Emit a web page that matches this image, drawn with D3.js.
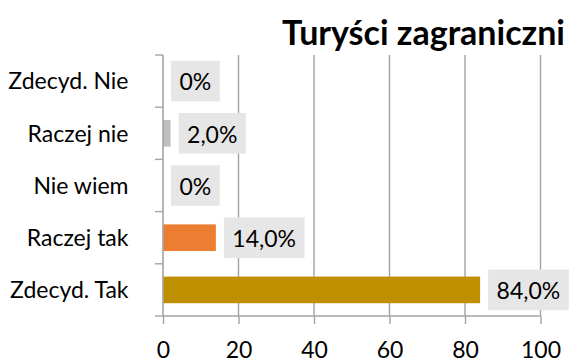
<!DOCTYPE html>
<html>
<head>
<meta charset="utf-8">
<script src="https://cdn.jsdelivr.net/npm/d3@7"></script>
<style>
  html, body { margin: 0; padding: 0; background: #fff; }
  svg { display: block; }
  text { font-family: Lato, "Open Sans", sans-serif; fill: #000; }
</style>
</head>
<body>
<svg id="chart" width="569" height="363"></svg>
<script>
// Survey answers, foreign tourists (percent of respondents)
const title = "Turyści zagraniczni";
const categories = ["Zdecyd. Nie", "Raczej nie", "Nie wiem", "Raczej tak", "Zdecyd. Tak"];
const values = [0, 2, 0, 14, 84];
const barColors = ["#bfbfbf", "#bfbfbf", "#bfbfbf", "#ed7d31", "#bf9000"];
const xTicks = [0, 20, 40, 60, 80, 100];

const W = 569, H = 363;
const plot = { left: 163, right: 540.5, top: 55, bottom: 316 };
const fontSize = 23;

const svg = d3.select("#chart");

const x = d3.scaleLinear().domain([0, 100]).range([plot.left, plot.right]);
const y = d3.scaleBand()
  .domain(categories)
  .range([plot.top, plot.bottom])
  .paddingInner(0.49)
  .paddingOuter(0.245);

const step = y.step();
const gridColor = "#a3a3a3";

// vertical gridlines
svg.append("g")
  .selectAll("line")
  .data(xTicks.filter(d => d > 0))
  .join("line")
  .attr("x1", d => x(d)).attr("x2", d => x(d))
  .attr("y1", plot.top).attr("y2", plot.bottom)
  .attr("stroke", gridColor)
  .attr("stroke-width", 1.4);

// bars
svg.append("g")
  .selectAll("rect")
  .data(categories.map((c, i) => ({ c, v: values[i], color: barColors[i] })))
  .join("rect")
  .attr("x", x(0))
  .attr("y", d => y(d.c))
  .attr("width", d => x(d.v) - x(0))
  .attr("height", y.bandwidth())
  .attr("fill", d => d.color);

// bottom value axis
const xAxis = svg.append("g")
  .attr("transform", `translate(0,${plot.bottom})`)
  .call(d3.axisBottom(x).tickValues(xTicks).tickSize(8).tickPadding(18).tickFormat(d3.format("d")));
xAxis.select(".domain").attr("stroke", gridColor).attr("stroke-width", 1.6)
  .attr("d", `M${plot.left},0H${plot.right}`);
xAxis.selectAll(".tick line").attr("stroke", gridColor).attr("stroke-width", 1.4);
xAxis.selectAll(".tick text")
  .style("font-family", "Lato, sans-serif")
  .style("font-size", fontSize + "px")
  .attr("fill", "#000");

// left category axis: ticks sit on band boundaries, labels in band centres
const catAxis = svg.append("g");
catAxis.append("line")
  .attr("x1", plot.left).attr("x2", plot.left)
  .attr("y1", plot.top).attr("y2", plot.bottom)
  .attr("stroke", gridColor).attr("stroke-width", 1.6);
const boundaries = d3.range(categories.length + 1).map(i => plot.top + i * step);
catAxis.selectAll("line.tick")
  .data(boundaries)
  .join("line")
  .attr("class", "tick")
  .attr("x1", plot.left - 8).attr("x2", plot.left)
  .attr("y1", d => d).attr("y2", d => d)
  .attr("stroke", gridColor).attr("stroke-width", 1.4);
catAxis.selectAll("text")
  .data(categories)
  .join("text")
  .attr("x", 128.5)
  .attr("y", d => y(d) + y.bandwidth() / 2 + 8.3)
  .attr("text-anchor", "end")
  .style("font-size", fontSize + "px")
  .text(d => d);

// data labels in light grey boxes
const fmt = v => v === 0 ? "0%" : v.toFixed(1).replace(".", ",") + "%";
const labels = svg.append("g")
  .selectAll("g")
  .data(categories.map((c, i) => ({ c, v: values[i] })))
  .join("g");
labels.append("rect").attr("class", "box").attr("fill", "#e7e6e6");
labels.append("text")
  .style("font-size", fontSize + "px")
  .text(d => fmt(d.v));
labels.each(function(d) {
  const g = d3.select(this);
  const t = g.select("text");
  const tw = t.node().getComputedTextLength();
  const cy = y(d.c) + y.bandwidth() / 2;
  const bx = x(d.v) + 8;
  const pad = 8.5;
  g.select("rect")
    .attr("x", bx).attr("y", cy - 20.3)
    .attr("width", tw + pad * 2).attr("height", 40.6);
  t.attr("x", bx + pad).attr("y", cy + 9.3);
});

// title
svg.append("text")
  .attr("x", 565)
  .attr("y", 45)
  .attr("text-anchor", "end")
  .style("font-size", "34px")
  .style("font-weight", "bold")
  .text(title);
</script>
</body>
</html>
